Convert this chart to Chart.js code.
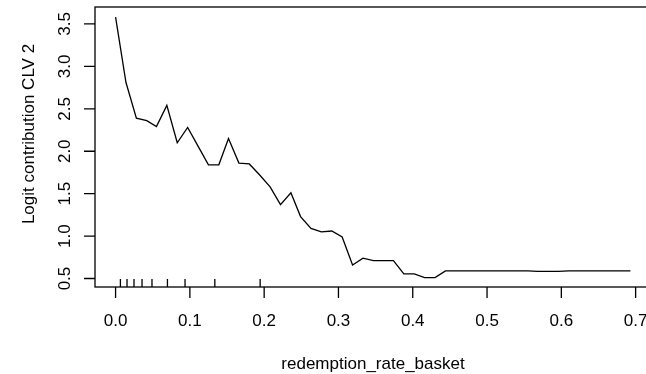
<!DOCTYPE html>
<html>
<head>
<meta charset="utf-8">
<script src="https://cdn.jsdelivr.net/npm/chart.js@4/dist/chart.umd.min.js"></script>
<style>
html, body { margin: 0; padding: 0; overflow: hidden; background: #fff; }
</style>
</head>
<body>
<canvas id="pd" width="660" height="374"></canvas>
<script>
// partial dependence of redemption_rate_basket
const rateX = [0.000, 0.014, 0.028, 0.042, 0.055, 0.069, 0.083, 0.097, 0.111, 0.125,
  0.139, 0.152, 0.166, 0.180, 0.194, 0.208, 0.222, 0.236, 0.249, 0.263,
  0.277, 0.291, 0.305, 0.319, 0.333, 0.347, 0.360, 0.374, 0.388, 0.402,
  0.416, 0.430, 0.444, 0.458, 0.471, 0.485, 0.499, 0.513, 0.527, 0.541,
  0.555, 0.568, 0.582, 0.596, 0.610, 0.624, 0.638, 0.652, 0.666, 0.679, 0.693];
const logitY = [3.58, 2.81, 2.39, 2.36, 2.29, 2.54, 2.10, 2.28, 2.06, 1.84,
  1.84, 2.15, 1.86, 1.85, 1.72, 1.58, 1.37, 1.51, 1.23, 1.09,
  1.05, 1.06, 0.99, 0.66, 0.74, 0.71, 0.71, 0.71, 0.555, 0.555,
  0.51, 0.51, 0.59, 0.59, 0.59, 0.59, 0.59, 0.59, 0.59, 0.59,
  0.59, 0.585, 0.583, 0.585, 0.59, 0.59, 0.59, 0.59, 0.59, 0.59, 0.59];
const xTicks = [0.0, 0.1, 0.2, 0.3, 0.4, 0.5, 0.6, 0.7];
const yTicks = [0.5, 1.0, 1.5, 2.0, 2.5, 3.0, 3.5];
const rugX = [0.0065, 0.0154, 0.0248, 0.0356, 0.049, 0.0698, 0.0935, 0.1336, 0.1946];

const font = '17px "Liberation Sans", Arial, sans-serif';

// R-style box, axes, labels and rug
const baseAxes = {
  id: 'baseAxes',
  afterDraw(chart) {
    const {ctx, chartArea: a, scales: {x, y}} = chart;
    ctx.save();
    ctx.strokeStyle = '#000';
    ctx.fillStyle = '#000';
    ctx.lineWidth = 1.3;
    ctx.strokeRect(a.left, a.top, a.right - a.left, a.bottom - a.top);
    ctx.font = font;
    ctx.textAlign = 'center';
    ctx.textBaseline = 'middle';
    ctx.beginPath();
    xTicks.forEach(v => {
      const px = x.getPixelForValue(v);
      ctx.moveTo(px, a.bottom);
      ctx.lineTo(px, a.bottom + 11);
    });
    yTicks.forEach(v => {
      const py = y.getPixelForValue(v);
      ctx.moveTo(a.left - 11, py);
      ctx.lineTo(a.left, py);
    });
    rugX.forEach(v => {
      const px = x.getPixelForValue(v);
      ctx.moveTo(px, a.bottom);
      ctx.lineTo(px, a.bottom - 8);
    });
    ctx.stroke();
    xTicks.forEach(v => {
      ctx.fillText(v.toFixed(1), x.getPixelForValue(v), 321);
    });
    yTicks.forEach(v => {
      ctx.save();
      ctx.translate(65, y.getPixelForValue(v));
      ctx.rotate(-Math.PI / 2);
      ctx.fillText(v.toFixed(1), 0, 0);
      ctx.restore();
    });
    ctx.fillText('redemption_rate_basket', (a.left + a.right) / 2, 364);
    ctx.save();
    ctx.translate(29, 134);
    ctx.rotate(-Math.PI / 2);
    ctx.fillText('Logit contribution CLV 2', 0, 0);
    ctx.restore();
    ctx.restore();
  }
};

new Chart(document.getElementById('pd'), {
  type: 'line',
  data: {
    datasets: [{
      data: rateX.map((v, i) => ({x: v, y: logitY[i]})),
      borderColor: '#000',
      borderWidth: 1.3,
      pointRadius: 0,
      tension: 0,
      fill: false
    }]
  },
  options: {
    responsive: false,
    animation: false,
    layout: {padding: {left: 95, right: 9, top: 7, bottom: 87}},
    plugins: {legend: {display: false}, tooltip: {enabled: false}},
    scales: {
      x: {type: 'linear', display: false, min: -0.0277, max: 0.7207},
      y: {type: 'linear', display: false, min: 0.40, max: 3.70}
    }
  },
  plugins: [baseAxes]
});
</script>
</body>
</html>
